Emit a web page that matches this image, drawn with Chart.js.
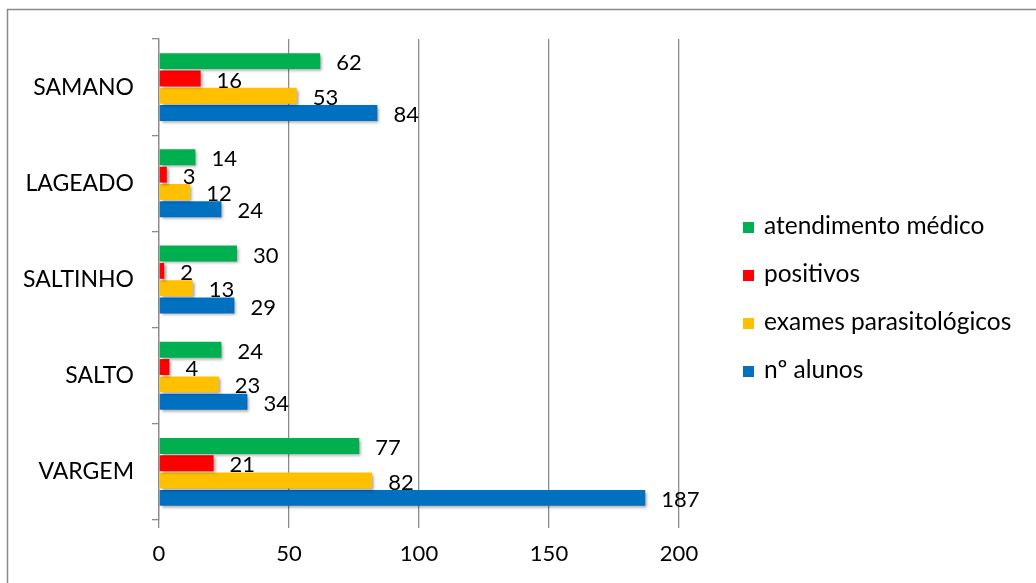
<!DOCTYPE html>
<html>
<head>
<meta charset="utf-8">
<script src="https://cdn.jsdelivr.net/npm/chart.js@4/dist/chart.umd.min.js"></script>
<style>
html,body{margin:0;padding:0;background:#fff;}
#wrap{width:1036px;height:583px;position:relative;}
canvas{display:block;}
</style>
</head>
<body>
<div id="wrap"><canvas id="c" width="1036" height="583"></canvas></div>
<script>
const categories = ['SAMANO', 'LAGEADO', 'SALTINHO', 'SALTO', 'VARGEM'];
const atendimentoMedico = [62, 14, 30, 24, 77];
const positivos = [16, 3, 2, 4, 21];
const examesParasitologicos = [53, 12, 13, 23, 82];
const nAlunos = [84, 24, 29, 34, 187];
const xTicks = [0, 50, 100, 150, 200];

const FONT = 'Lato, "Open Sans", sans-serif';
const FS_NUM = 22;
const FS_CAT = 23;
const FS_LEG = 24.5;

const shadowPlugin = {
  id: 'barShadow',
  beforeDatasetsDraw(chart) {
    const ctx = chart.ctx;
    ctx.save();
    ctx.shadowColor = 'rgba(0,0,0,0.38)';
    ctx.shadowBlur = 3;
    ctx.shadowOffsetX = 2;
    ctx.shadowOffsetY = 2;
  },
  afterDatasetsDraw(chart) {
    chart.ctx.restore();
  }
};

const labelPlugin = {
  id: 'valueLabels',
  afterDatasetsDraw(chart) {
    const ctx = chart.ctx;
    ctx.save();
    ctx.font = FS_NUM + 'px ' + FONT;
    ctx.fillStyle = '#000';
    ctx.textAlign = 'left';
    ctx.textBaseline = 'middle';
    chart.data.datasets.forEach((ds, i) => {
      const meta = chart.getDatasetMeta(i);
      meta.data.forEach((bar, j) => {
        ctx.fillText(String(ds.data[j]), bar.x + 16, bar.y + 2);
      });
    });
    ctx.restore();
  }
};

const legendPlugin = {
  id: 'customLegend',
  afterDraw(chart) {
    const ctx = chart.ctx;
    ctx.save();
    ctx.font = FS_LEG + 'px ' + FONT;
    ctx.textAlign = 'left';
    ctx.textBaseline = 'middle';
    const ys = [226, 274, 322, 370];
    chart.data.datasets.forEach((ds, i) => {
      const y = ys[i];
      ctx.fillStyle = ds.backgroundColor;
      ctx.fillRect(743, y - 4, 11, 11);
      ctx.fillStyle = '#000';
      ctx.fillText(ds.label, 764, y);
    });
    ctx.restore();
  }
};

const framePlugin = {
  id: 'frame',
  afterDraw(chart) {
    const ctx = chart.ctx;
    ctx.save();
    ctx.strokeStyle = '#8a8a8a';
    ctx.lineWidth = 1.5;
    ctx.beginPath();
    ctx.moveTo(7.5, 600);
    ctx.lineTo(7.5, 9.5);
    ctx.lineTo(1040, 9.5);
    ctx.stroke();
    ctx.restore();
  }
};

new Chart(document.getElementById('c'), {
  type: 'bar',
  data: {
    labels: categories,
    datasets: [
      { label: 'atendimento médico', data: atendimentoMedico, backgroundColor: '#00B050' },
      { label: 'positivos', data: positivos, backgroundColor: '#FF0000' },
      { label: 'exames parasitológicos', data: examesParasitologicos, backgroundColor: '#FFC000' },
      { label: 'nº alunos', data: nAlunos, backgroundColor: '#0070C0' }
    ]
  },
  options: {
    indexAxis: 'y',
    responsive: false,
    animation: false,
    devicePixelRatio: 1,
    categoryPercentage: 0.72,
    barPercentage: 0.92,
    layout: { padding: { left: 0, top: 39, right: 357, bottom: 0 } },
    plugins: {
      legend: { display: false },
      tooltip: { enabled: false }
    },
    scales: {
      x: {
        min: 0, max: 200,
        afterBuildTicks(scale) { scale.ticks = xTicks.map(v => ({ value: v })); },
        afterFit(scale) { scale.height = 63; },
        grid: { color: '#8c8c8c', lineWidth: 1.3, drawTicks: true, tickLength: 8, tickColor: '#8c8c8c' },
        border: { display: false },
        ticks: { color: '#000', font: { family: FONT, size: FS_NUM }, padding: 13, maxRotation: 0 }
      },
      y: {
        afterFit(scale) { scale.width = 159; },
        grid: { drawOnChartArea: false, drawTicks: true, tickLength: 7, color: '#8c8c8c', lineWidth: 1.3, offset: true },
        border: { display: true, color: '#8c8c8c', width: 1.3 },
        ticks: { color: '#000', font: { family: FONT, size: FS_CAT }, padding: 18 }
      }
    }
  },
  plugins: [shadowPlugin, labelPlugin, legendPlugin, framePlugin]
});
</script>
</body>
</html>
